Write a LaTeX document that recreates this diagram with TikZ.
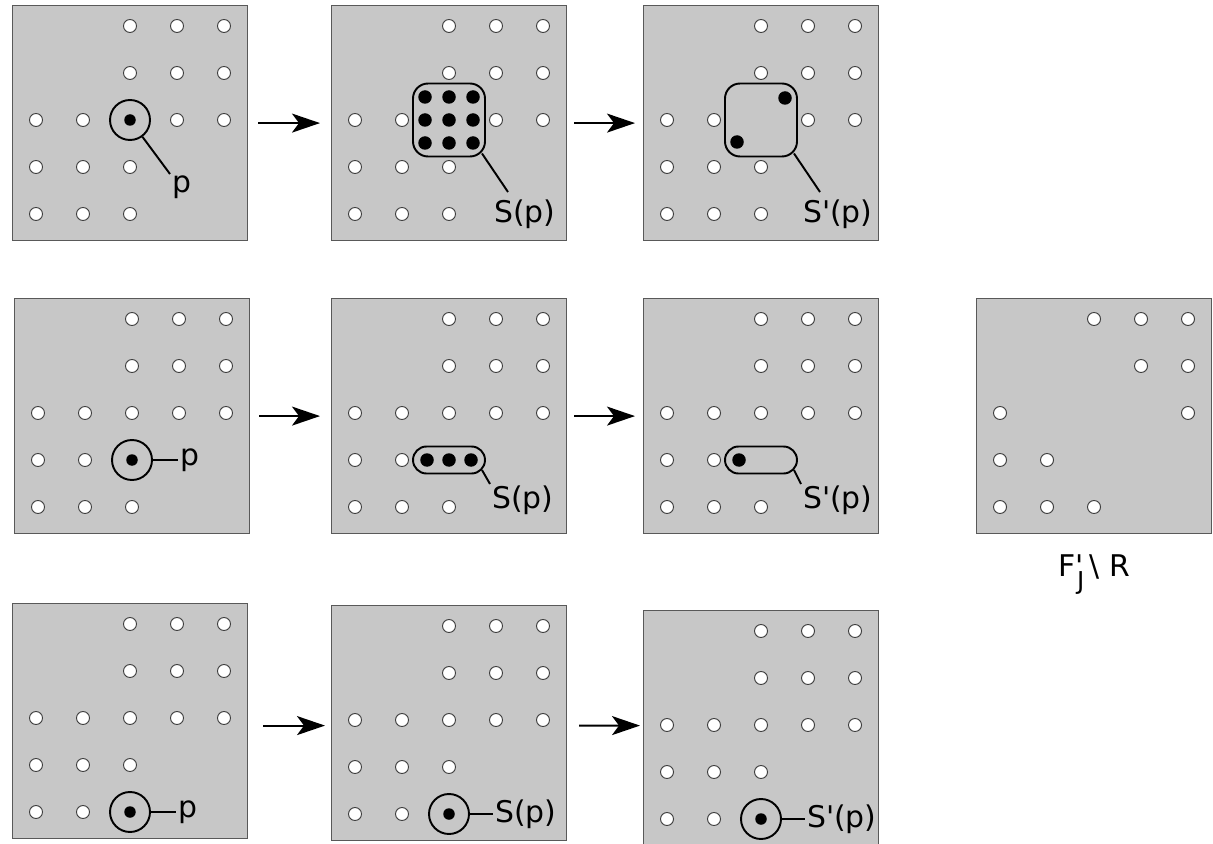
\documentclass[tikz,border=0pt]{standalone}
\usepackage{fontspec}
\setmainfont{DejaVu Sans}
\usetikzlibrary{positioning,arrows.meta,calc,shapes.misc}

\begin{document}
\begin{tikzpicture}[
  x=0.02cm, y=-0.02cm,
  every node/.style={font=\fontsize{17}{20}\selectfont},
  panel/.style ={draw=black!65, fill=black!22, line width=0.7pt, anchor=north west,
                 minimum width=4.7cm, minimum height=4.7cm, inner sep=0pt},
  site/.style  ={circle, draw=black!75, fill=white, line width=0.55pt,
                 minimum size=0.26cm, inner sep=0pt},
  hit/.style   ={circle, fill=black, minimum size=0.27cm, inner sep=0pt},
  core/.style  ={circle, fill=black, minimum size=0.23cm, inner sep=0pt},
  ring/.style  ={circle, draw, line width=1.1pt, minimum size=0.8cm, inner sep=0pt},
  square/.style={draw, line width=1.1pt, rounded corners=0.3cm,
                 minimum width=1.44cm, minimum height=1.46cm, inner sep=0pt},
  capsule/.style={rounded rectangle, draw, line width=1.1pt,
                 minimum width=1.44cm, minimum height=0.54cm, inner sep=0pt},
  tag/.style   ={inner sep=1pt},
  lead/.style  ={line width=1.1pt},
  arr/.style   ={-{Stealth[length=0.56cm, width=0.38cm, inset=0.14cm]}, line width=1.1pt}]

\useasboundingbox (0,0) rectangle (1213,844);

%% panels, by their top left corner
\node[panel] (A1) at (12,5)    {};
\node[panel] (B1) at (331,5)   {};
\node[panel] (C1) at (643,5)   {};
\node[panel] (A2) at (14,298)  {};
\node[panel] (B2) at (331,298) {};
\node[panel] (C2) at (643,298) {};
\node[panel] (D2) at (976,298) {};
\node[panel] (A3) at (12,603)  {};
\node[panel] (B3) at (331,605) {};
\node[panel] (C3) at (643,610) {};

%% the same set of sites everywhere; the site of p is left as a coordinate
\foreach \p/\om in {A1/22,B1/22,C1/22,A2/23,B2/23,C2/23,A3/24,B3/24,C3/24}{
  \foreach \i/\j in {2/0,3/0,4/0,2/1,3/1,4/1,0/2,1/2,2/2,3/2,4/2,0/3,1/3,2/3,0/4,1/4,2/4}{
    \ifnum\i\j=\om\relax
      \coordinate (\p-\i\j) at ($(\p.north west)+(24+47*\i,21+47*\j)$);
    \else
      \node[site] (\p-\i\j) at ($(\p.north west)+(24+47*\i,21+47*\j)$) {};
    \fi
  }
}
\foreach \i/\j in {2/0,3/0,4/0,3/1,4/1,0/2,4/2,0/3,1/3,0/4,1/4,2/4}
  \node[site] (D2-\i\j) at ($(D2.north west)+(24+47*\i,21+47*\j)$) {};
\node[below=0.28cm of D2] (lD2)
  {F\textquotesingle\kern-0.22em\raisebox{-0.45em}{\fontsize{14}{16}\selectfont J}\,\textbackslash\ R};

%% row 1
\node[ring] (rA1) at (A1-22) {};
\node[core] (cA1) at (A1-22) {};
\node[tag, anchor=north west] (lA1) at (170,174) {p};
\draw[lead] (rA1) -- (lA1.north west);

\foreach \a in {-1,0,1}
  \foreach \b in {-1,0,1}
    \node[hit] (hB1\a\b) at ($(B1-22)+(24*\a,23*\b)$) {};
\node[square] (sB1) at (B1-22) {};
\node[tag, anchor=north west] (lB1) at (492,198) {S(p)};
\draw[lead] ($(sB1.south east)+(-4,-4)$) -- ($(lB1.north west)+(16,-6)$);

\node[hit] (hC1a) at ($(C1-22)+(24,-22)$) {};
\node[hit] (hC1b) at ($(C1-22)+(-24,22)$) {};
\node[square] (sC1) at (C1-22) {};
\node[tag, anchor=north west] (lC1) at (801,198) {S\textquotesingle(p)};
\draw[lead] ($(sC1.south east)+(-4,-4)$) -- ($(lC1.north west)+(19,-6)$);

\draw[arr, shorten <=0.2cm,  shorten >=0.22cm] (A1) -- (B1);
\draw[arr, shorten <=0.14cm, shorten >=0.16cm] (B1) -- (C1);

%% row 2
\node[ring] (rA2) at (A2-23) {};
\node[core] (cA2) at (A2-23) {};
\node[tag, right=0.5cm of rA2] (lA2) {p};
\draw[lead] (rA2) -- (lA2);

\foreach \a in {-1,0,1}
  \node[hit] (hB2\a) at ($(B2-23)+(22*\a,0)$) {};
\node[capsule] (sB2) at (B2-23) {};
\node[tag, anchor=north west] (lB2) at (490,484) {S(p)};
\draw[lead] ($(sB2.east)+(-4,10)$) -- (lB2.north west);

\node[hit] (hC2) at ($(C2-23)+(-22,0)$) {};
\node[capsule] (sC2) at (C2-23) {};
\node[tag, anchor=north west] (lC2) at (801,484) {S\textquotesingle(p)};
\draw[lead] ($(sC2.east)+(-4,10)$) -- (lC2.north west);

\draw[arr, shorten <=0.18cm, shorten >=0.22cm] (A2) -- (B2);
\draw[arr, shorten <=0.14cm, shorten >=0.16cm] (B2) -- (C2);

%% row 3
\node[ring] (rA3) at (A3-24) {};
\node[core] (cA3) at (A3-24) {};
\node[tag, right=0.5cm of rA3] (lA3) {p};
\draw[lead] (rA3) -- (lA3);

\node[ring] (rB3) at (B3-24) {};
\node[core] (cB3) at (B3-24) {};
\node[tag, right=0.46cm of rB3] (lB3) {S(p)};
\draw[lead] (rB3) -- (lB3);

\node[ring] (rC3) at (C3-24) {};
\node[core] (cC3) at (C3-24) {};
\node[tag, right=0.46cm of rC3] (lC3) {S\textquotesingle(p)};
\draw[lead] (rC3) -- (lC3);

%% the panels of row 3 are not level: keep the arrows flat
\draw[arr] ($(A3.east)+(15,4.5)$) -- ($(B3.west)+(-6,2.5)$);
\draw[arr] ($(B3.east)+(12,2.5)$) -- ($(C3.west)+(-3,-2.5)$);
\end{tikzpicture}
\end{document}
